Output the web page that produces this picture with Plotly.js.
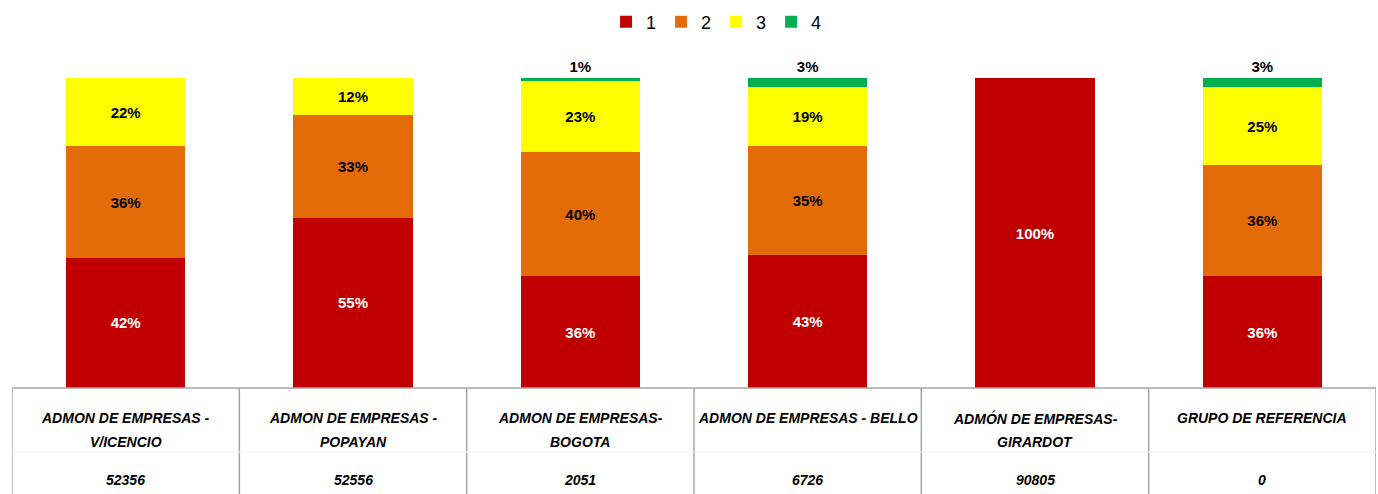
<!DOCTYPE html>
<html>
<head>
<meta charset="utf-8">
<script src="https://cdn.plot.ly/plotly-3.0.1.min.js"></script>
<style>
  html, body { margin: 0; padding: 0; background: #fff; }
  #chart { width: 1378px; height: 494px; }
</style>
</head>
<body>
<div id="chart"></div>
<script>
var labelTop = ['ADMON DE EMPRESAS -', 'ADMON DE EMPRESAS -', 'ADMON DE EMPRESAS-', 'ADMON DE EMPRESAS - BELLO', 'ADMÓN DE EMPRESAS-', 'GRUPO DE REFERENCIA']
var labelBottom = ['V/ICENCIO', 'POPAYAN', 'BOGOTA', '', 'GIRARDOT', '']
var codes = ['52356', '52556', '2051', '6726', '90805', '0']

var level1 = [42, 55, 36, 43, 100, 36]
var level2 = [36, 33, 40, 35, 0, 36]
var level3 = [22, 12, 23, 19, 0, 25]
var level4 = [0, 0, 1, 3, 0, 3]

var seriesNames = ['1', '2', '3', '4']
var seriesColors = ['#C00000', '#E36C09', '#FFFF00', '#00B050']
var textColors = ['#FFFFFF', '#000000', '#000000', '#000000']

var cats = labelTop.map(function (d, i) { return i })

function pctText(arr) {
  return arr.map(function (v) { return v > 0 ? v + '%' : '' })
}

var allLevels = [level1, level2, level3, level4]
var traces = []
for (var s = 0; s < allLevels.length; s++) {
  traces.push({
    type: 'bar',
    name: seriesNames[s],
    x: cats,
    y: allLevels[s],
    text: pctText(allLevels[s]),
    textposition: s == 3 ? 'outside' : 'inside',
    insidetextanchor: 'middle',
    constraintext: 'none',
    cliponaxis: false,
    textfont: {family: 'Liberation Sans, Arial, sans-serif', size: 15, color: textColors[s], weight: 'bold'},
    marker: {color: seriesColors[s], line: {width: 0}},
    hoverinfo: 'skip'
  })
}

var labelFont = {family: 'Liberation Sans, Arial, sans-serif', size: 14, color: '#000', weight: 'bold', style: 'italic'}
var annotations = []
var shapes = []
var lowY = -106 / 310
for (var i = 0; i < cats.length; i++) {
  annotations.push({
    x: i, xref: 'x', y: -30 / 310, yref: 'paper', yanchor: 'middle',
    text: labelTop[i], showarrow: false, font: labelFont
  })
  if (labelBottom[i]) {
    annotations.push({
      x: i, xref: 'x', y: -54 / 310, yref: 'paper', yanchor: 'middle',
      text: labelBottom[i], showarrow: false, font: labelFont
    })
  }
  annotations.push({
    x: i, xref: 'x', y: -92 / 310, yref: 'paper', yanchor: 'middle',
    text: codes[i], showarrow: false, font: labelFont
  })
}
for (var k = 0; k <= cats.length; k++) {
  shapes.push({
    type: 'line', xref: 'x', yref: 'paper',
    x0: k - 0.5, x1: k - 0.5, y0: 0, y1: lowY,
    line: {color: '#A6A6A6', width: 1.5}
  })
}
shapes.push({
  type: 'line', xref: 'paper', yref: 'paper',
  x0: 0, x1: 1, y0: -64 / 310, y1: -64 / 310,
  line: {color: '#F2F2F2', width: 1}
})
shapes.push({
  type: 'line', xref: 'paper', yref: 'paper',
  x0: 0, x1: 1, y0: 0, y1: 0,
  line: {color: '#A6A6A6', width: 1.5}
})

var layout = {
  width: 1378,
  height: 494,
  barmode: 'stack',
  bargap: 0.476,
  margin: {l: 12, r: 2, t: 78, b: 106},
  paper_bgcolor: '#fff',
  plot_bgcolor: '#fff',
  showlegend: true,
  legend: {
    orientation: 'h', traceorder: 'normal',
    x: 0.52, xanchor: 'center', xref: 'container',
    y: 1 - 22 / 494, yanchor: 'middle', yref: 'container',
    font: {family: 'Liberation Sans, Arial, sans-serif', size: 18, color: '#000'},
    itemwidth: 30
  },
  xaxis: {
    range: [-0.5, 5.5], showticklabels: false, showgrid: false, zeroline: false, showline: false, ticks: ''
  },
  yaxis: {
    range: [0, 100], visible: false, showgrid: false, zeroline: false
  },
  annotations: annotations,
  shapes: shapes,
  font: {family: 'Liberation Sans, Arial, sans-serif'}
}

Plotly.newPlot('chart', traces, layout, {displayModeBar: false, staticPlot: true})
</script>
</body>
</html>
